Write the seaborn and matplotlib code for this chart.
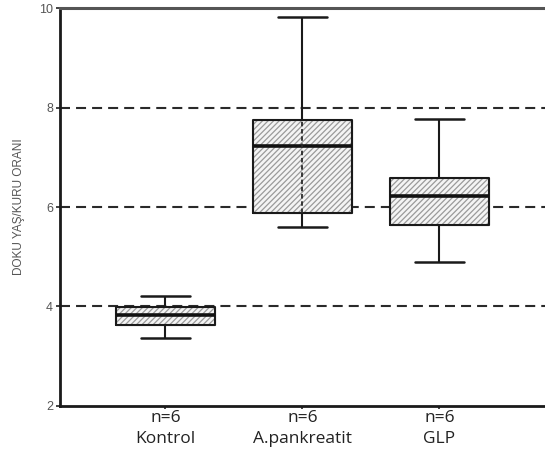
import numpy as np
import pandas as pd
import matplotlib
matplotlib.use("Agg")
import matplotlib.pyplot as plt
import seaborn as sns

# gruplar ve her gruptaki 6 ölçüm (grafikten okunan kutu değerlerine göre)
gruplar = ["Kontrol", "A.pankreatit", "GLP"]
kontrol = [3.37, 3.567, 3.78, 3.88, 4.027, 4.20]
pankreatit = [5.60, 5.607, 6.70, 7.76, 7.76, 9.82]
glp = [4.89, 5.487, 6.10, 6.34, 6.673, 7.78]
etiketler = ["n=6\nKontrol", "n=6\nA.pankreatit", "n=6\nGLP"]
y_ticks = [2, 4, 6, 8, 10]
cizgiler = [4, 6, 8]

df = pd.DataFrame({
    "grup": np.repeat(gruplar, 6),
    "oran": kontrol + pankreatit + glp,
})

sns.set_style("white")
plt.rcParams["font.family"] = ["Liberation Sans", "DejaVu Sans"]
plt.rcParams["hatch.linewidth"] = 0.9

fig = plt.figure(figsize=(5.45, 4.57), dpi=100)
ax = fig.add_axes([0.110, 0.112, 0.890, 0.870])

# taralı dolgu (gri tarama)
sns.boxplot(data=df, x="grup", y="oran", order=gruplar, ax=ax,
            whis=(0, 100), width=0.72, color="#f4f4f4", linecolor="#9a9a9a",
            linewidth=0.8, showcaps=False, zorder=2)
for p in ax.patches:
    p.set_hatch("//////")
for ln in list(ax.lines):
    ln.set_visible(False)

# yatay kesikli çizgiler (kutuların arkasında)
for c in cizgiler:
    ax.axhline(c, color="#2a2a2a", lw=1.5, ls=(0, (4.8, 2.9)), zorder=1)

# siyah kutu çerçevesi, bıyıklar, medyan
sns.boxplot(data=df, x="grup", y="oran", order=gruplar, ax=ax,
            whis=(0, 100), width=0.72, fill=False, color="#1a1a1a",
            linewidth=1.5, zorder=3,
            medianprops={"linewidth": 2.6, "color": "#111111"},
            capprops={"linewidth": 1.8})

# A.pankreatit kutusundaki kesikli dikey çizgi
q1, q3 = np.percentile(pankreatit, [25, 75])
ax.vlines(1, q1, q3, color="#2a2a2a", lw=1.3, ls=(0, (2.5, 1.5)), zorder=4)

ax.set_xlim(-0.77, 2.77)
ax.set_ylim(2, 10)
ax.set_yticks(y_ticks)
ax.set_yticklabels([str(t) for t in y_ticks], fontsize=9, color="#555555")
ax.set_xticks(range(len(gruplar)))
ax.set_xticklabels(etiketler, fontsize=12.5, family=["Open Sans", "DejaVu Sans"],
                   color="#222222", linespacing=1.4)
ax.tick_params(axis="y", length=3, width=1.2, color="#222222", pad=2, left=True)
ax.tick_params(axis="x", length=2, width=1.2, color="#222222", pad=1, bottom=True)
ax.set_xlabel("")
ax.set_ylabel("DOKU YAŞ/KURU ORANI", fontsize=8.5, color="#555555", labelpad=10)

for s in ["left", "bottom"]:
    ax.spines[s].set_color("#1a1a1a")
    ax.spines[s].set_linewidth(2)
ax.spines["top"].set_color("#555555")
ax.spines["top"].set_linewidth(2.2)
ax.spines["right"].set_visible(False)

fig.savefig("out.png", dpi=100)
